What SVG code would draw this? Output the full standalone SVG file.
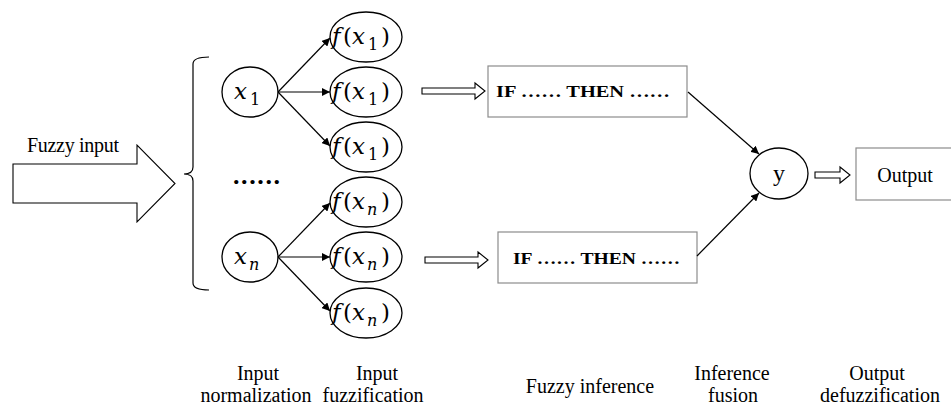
<svg xmlns="http://www.w3.org/2000/svg" width="951" height="405" viewBox="0 0 951 405">
<style>
  .lbl { font-family: 'Liberation Serif', serif; font-size: 20px; fill: #000; }
  .rule { font-family: 'Liberation Serif', serif; font-size: 17px; font-weight: bold; fill: #000; }
  .math { font-family: 'DejaVu Serif', 'Liberation Serif', serif; font-size: 23px; fill: #000; }
  .it { font-style: italic; }
  .sub { font-size: 16px; }
  .node { fill: #fff; stroke: #000; stroke-width: 1.3; }
  .box { fill: #fff; stroke: #8c8c8c; stroke-width: 1.2; }
  .edge { fill: none; stroke: #000; stroke-width: 1.2; }
  .hollow { fill: #fff; stroke: #000; stroke-width: 1.1; }
</style>
<defs>
  <marker id="ah" viewBox="0 0 10 10" refX="10" refY="5" markerWidth="8" markerHeight="8" markerUnits="userSpaceOnUse" orient="auto">
    <path d="M0,0 L10,5 L0,10 z" fill="#000"/>
  </marker>
</defs>

<g id="fuzzy-input">
  <polygon class="hollow" points="13,164 137,164 137,145 175,183.5 137,222 137,203 13,203"/>
  <text class="lbl" x="27" y="152" textLength="92">Fuzzy input</text>
</g>

<g id="brace">
  <path class="edge" stroke-width="1" d="M209,57 Q193,57 193,64 L193,167 Q193,174 184,174 Q193,174 193,181 L193,283 Q193,290 209,290"/>
</g>

<g id="x1">
  <ellipse class="node" cx="250" cy="92" rx="28" ry="25"/>
  <text class="math"><tspan class="it" x="234" y="99">x</tspan><tspan class="sub" x="250" y="105">1</tspan></text>
</g>
<g id="xn">
  <ellipse class="node" cx="250" cy="257" rx="28" ry="25"/>
  <text class="math"><tspan class="it" x="234" y="264">x</tspan><tspan class="sub it" x="249" y="270">n</tspan></text>
</g>

<g id="dots">
  <text x="233" y="184" style="font-family:'Liberation Serif',serif;font-size:26px;font-weight:bold" textLength="47" lengthAdjust="spacing">......</text>
</g>

<g id="f1a">
  <ellipse class="node" cx="366" cy="37" rx="36" ry="25"/>
  <text class="math"><tspan class="it" x="332" y="44">f</tspan><tspan x="343" y="44">(</tspan><tspan class="it" x="352" y="44">x</tspan><tspan class="sub" x="368" y="50">1</tspan><tspan x="381" y="44">)</tspan></text>
</g>
<g id="f1b">
  <ellipse class="node" cx="366" cy="92" rx="36" ry="25"/>
  <text class="math"><tspan class="it" x="332" y="99">f</tspan><tspan x="343" y="99">(</tspan><tspan class="it" x="352" y="99">x</tspan><tspan class="sub" x="368" y="105">1</tspan><tspan x="381" y="99">)</tspan></text>
</g>
<g id="f1c">
  <ellipse class="node" cx="366" cy="147" rx="36" ry="25"/>
  <text class="math"><tspan class="it" x="332" y="154">f</tspan><tspan x="343" y="154">(</tspan><tspan class="it" x="352" y="154">x</tspan><tspan class="sub" x="368" y="160">1</tspan><tspan x="381" y="154">)</tspan></text>
</g>
<g id="fna">
  <ellipse class="node" cx="366" cy="202" rx="36" ry="25"/>
  <text class="math"><tspan class="it" x="332" y="209">f</tspan><tspan x="343" y="209">(</tspan><tspan class="it" x="352" y="209">x</tspan><tspan class="sub it" x="367" y="215">n</tspan><tspan x="381" y="209">)</tspan></text>
</g>
<g id="fnb">
  <ellipse class="node" cx="366" cy="257" rx="36" ry="25"/>
  <text class="math"><tspan class="it" x="332" y="264">f</tspan><tspan x="343" y="264">(</tspan><tspan class="it" x="352" y="264">x</tspan><tspan class="sub it" x="367" y="270">n</tspan><tspan x="381" y="264">)</tspan></text>
</g>
<g id="fnc">
  <ellipse class="node" cx="366" cy="313" rx="36" ry="25"/>
  <text class="math"><tspan class="it" x="332" y="320">f</tspan><tspan x="343" y="320">(</tspan><tspan class="it" x="352" y="320">x</tspan><tspan class="sub it" x="367" y="326">n</tspan><tspan x="381" y="320">)</tspan></text>
</g>

<g id="rule1">
  <rect class="box" x="488" y="66" width="199" height="51"/>
  <text class="rule" x="496" y="97" textLength="174" lengthAdjust="spacingAndGlyphs">IF …… THEN ……</text>
</g>
<g id="rule2">
  <rect class="box" x="498" y="232" width="199" height="51"/>
  <text class="rule" x="513" y="264" textLength="167" lengthAdjust="spacingAndGlyphs">IF …… THEN ……</text>
</g>

<g id="y">
  <ellipse class="node" cx="779" cy="173.5" rx="29" ry="25.5"/>
  <text x="779" y="181" text-anchor="middle" style="font-family:'Liberation Serif',serif;font-size:24px">y</text>
</g>

<g id="output">
  <rect class="box" x="856" y="148" width="100" height="52"/>
  <text x="905" y="182" text-anchor="middle" style="font-family:'Liberation Serif',serif;font-size:20px">Output</text>
</g>

<g id="connectors">
  <line class="edge" x1="278" y1="92" x2="330" y2="38" marker-end="url(#ah)"/>
  <line class="edge" x1="278" y1="92" x2="330" y2="92" marker-end="url(#ah)"/>
  <line class="edge" x1="278" y1="92" x2="330" y2="146" marker-end="url(#ah)"/>
  <line class="edge" x1="278" y1="257" x2="330" y2="203" marker-end="url(#ah)"/>
  <line class="edge" x1="278" y1="257" x2="330" y2="257" marker-end="url(#ah)"/>
  <line class="edge" x1="278" y1="257" x2="330" y2="311" marker-end="url(#ah)"/>
  <line class="edge" x1="688" y1="92" x2="759" y2="154" marker-end="url(#ah)"/>
  <line class="edge" x1="697" y1="256" x2="759" y2="193" marker-end="url(#ah)"/>
  <polygon class="hollow" points="422,88 475,88 475,83 485,91 475,99 475,94 422,94"/>
  <polygon class="hollow" points="425,257 478,257 478,252 488,260 478,268 478,263 425,263"/>
  <polygon class="hollow" points="815,172 840,172 840,167 850,175 840,183 840,178 815,178"/>
</g>

<g id="stage-labels">
  <text class="lbl" text-anchor="middle"><tspan x="258" y="380">Input</tspan><tspan x="256" y="402">normalization</tspan></text>
  <text class="lbl" text-anchor="middle"><tspan x="377" y="380">Input</tspan><tspan x="373" y="402">fuzzification</tspan></text>
  <text class="lbl" text-anchor="middle" x="590" y="393">Fuzzy inference</text>
  <text class="lbl" text-anchor="middle"><tspan x="732" y="380">Inference</tspan><tspan x="733" y="402">fusion</tspan></text>
  <text class="lbl" text-anchor="middle"><tspan x="877" y="380">Output</tspan><tspan x="880" y="402">defuzzification</tspan></text>
</g>
</svg>
